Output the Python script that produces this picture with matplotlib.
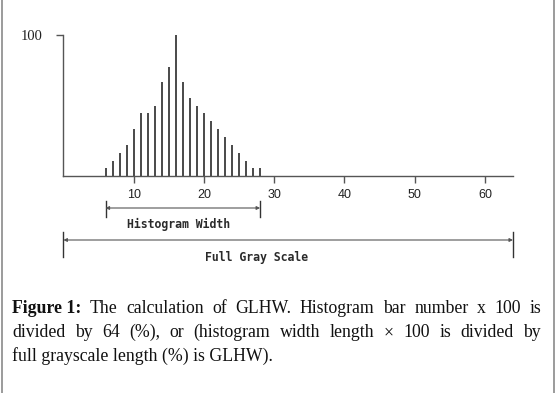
import matplotlib
matplotlib.use("Agg")
import matplotlib.pyplot as plt
from matplotlib.lines import Line2D

# ---- data ----
bins = [6, 7, 8, 9, 10, 11, 12, 13, 14, 15, 16, 17, 18, 19, 20, 21, 22, 23, 24, 25, 26, 27, 28]
counts = [5.4, 10.4, 16.3, 21.7, 33.1, 44.4, 44.4, 49.4, 66.9, 77.3, 100, 66.9, 55.1, 49.4,
          44.4, 39.0, 33.1, 27.9, 21.7, 16.3, 10.4, 5.4, 5.4]
x_ticks = [10, 20, 30, 40, 50, 60]
y_ticks = [100]
hist_range = (6, 28)
full_range = (0, 64)
caption_lines = [
    [("Figure 1:", "bold"), ("The", "normal"), ("calculation", "normal"), ("of", "normal"),
     ("GLHW.", "normal"), ("Histogram", "normal"), ("bar", "normal"), ("number", "normal"),
     ("x", "normal"), ("100", "normal"), ("is", "normal")],
    [(w, "normal") for w in "divided by 64 (%), or (histogram width length \u00d7 100 is divided by".split(" ")],
    [("full grayscale length (%) is GLHW).", "normal")],
]

W, H = 555, 393
fig = plt.figure(figsize=(W / 100, H / 100), dpi=100)
fig.patch.set_facecolor("white")

ax_left, ax_right = 63.4, 513.0
ax_bottom_px, ax_top_px = 176.0, 35.0
ax = fig.add_axes([ax_left / W, (H - ax_bottom_px) / H, (ax_right - ax_left) / W,
                   (ax_bottom_px - ax_top_px) / H])
ax.vlines(bins, 0, counts, colors="#3a3a3a", linewidth=1.3)
ax.set_xlim(0, 64)
ax.set_ylim(0, 100)
for s in ["top", "right"]:
    ax.spines[s].set_visible(False)
for s in ["left", "bottom"]:
    ax.spines[s].set_color("#555555")
    ax.spines[s].set_linewidth(1.0)
ax.set_xticks(x_ticks)
ax.set_xticklabels([str(t) for t in x_ticks], fontsize=9, family="Liberation Sans",
                   color="#222222")
ax.set_yticks(y_ticks)
ax.set_yticklabels([str(t) for t in y_ticks], fontsize=10.5, family="Liberation Serif",
                   color="#222222")
ax.tick_params(axis="x", direction="out", length=5, width=1, colors="#555555", pad=4,
               labelcolor="#222222")
ax.tick_params(axis="y", direction="out", length=5, width=1, colors="#555555", pad=10,
               labelcolor="#222222")

py = 100.0 / (ax_bottom_px - ax_top_px)  # data units per pixel in y


def ydat(px):
    return -(px - ax_bottom_px) * py


def dim_arrow(x0, x1, y_px, bar_top, bar_bot, label, label_y, label_x):
    y = ydat(y_px)
    ax.annotate("", xy=(x1, y), xytext=(x0, y),
                arrowprops=dict(arrowstyle="<|-|>", color="#555555", lw=0.8,
                                mutation_scale=5, shrinkA=0, shrinkB=0),
                annotation_clip=False)
    for xx in (x0, x1):
        ax.plot([xx, xx], [ydat(bar_top), ydat(bar_bot)], color="#333333", lw=1.0,
                clip_on=False)
    ax.text(label_x, ydat(label_y), label, ha="center", va="center", fontsize=8.3,
            family="DejaVu Sans Mono", fontweight="bold", color="#2a2a2a", clip_on=False)


dim_arrow(hist_range[0], hist_range[1], 208, 201, 217, "Histogram Width", 224, 16.4)
dim_arrow(full_range[0], full_range[1], 240, 232, 257, "Full Gray Scale", 257, 27.5)

# side border lines
fig.add_artist(Line2D([1.5 / W, 1.5 / W], [0, 1], color="#8a8a8a", lw=1.2))
fig.add_artist(Line2D([(W - 1.5) / W, (W - 1.5) / W], [0, 1], color="#8a8a8a", lw=1.2))

# caption with justification
fig.canvas.draw()
renderer = fig.canvas.get_renderer()
cap_size = 12.8
cap_family = "Liberation Serif"
left_px, right_px = 12.0, 541.0
baselines = [312.7, 337.0, 361.0]
for li, (words, base) in enumerate(zip(caption_lines, baselines)):
    texts = []
    for w, wt in words:
        t = fig.text(0, 1 - base / H, w, fontsize=cap_size, family=cap_family,
                     fontweight=wt, va="baseline", ha="left", color="#111111")
        texts.append(t)
    if len(texts) == 1:
        texts[0].set_x(left_px / W)
        continue
    widths = [t.get_window_extent(renderer).width for t in texts]
    gap = (right_px - left_px - sum(widths)) / (len(widths) - 1)
    x = left_px
    for t, wd in zip(texts, widths):
        t.set_x(x / W)
        x += wd + gap

fig.savefig("out.png", dpi=100, facecolor="white")
